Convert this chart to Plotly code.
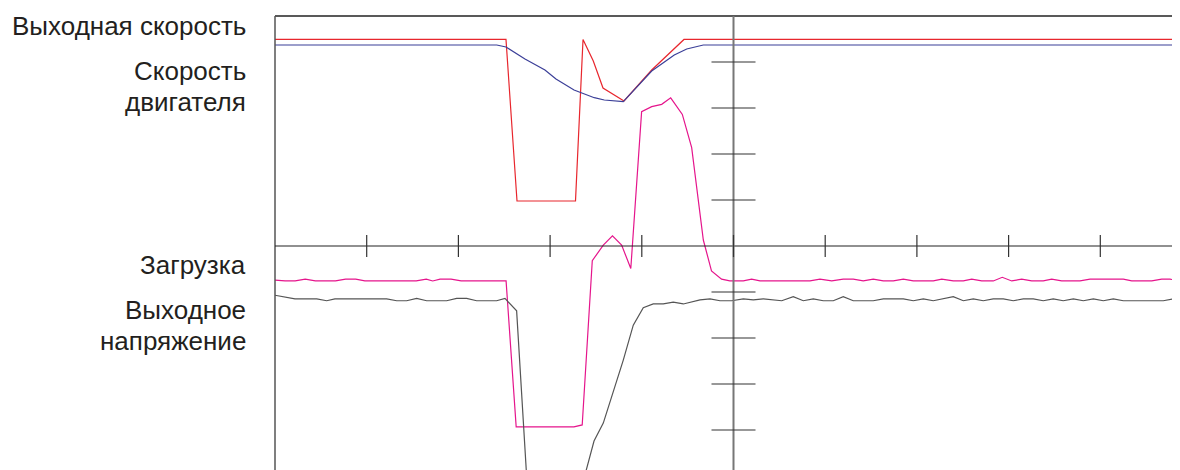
import plotly.graph_objects as go

# time axis in screen divisions (0..10), signal values in divisions (-5..5)
out_speed_t = [0.0, 2.519, 2.639, 3.277, 3.359, 3.471, 3.577, 3.806, 4.108, 4.460, 10.0]
out_speed_v = [4.49, 4.49, 0.978, 0.978, 4.49, 4.02, 3.435, 3.152, 3.826, 4.49, 4.49]

motor_speed_t = [0.0, 2.418, 2.519, 2.726, 2.944, 3.064, 3.261, 3.482, 3.591, 3.798,
                 4.108, 4.354, 4.490, 4.671, 10.0]
motor_speed_v = [4.37, 4.37, 4.326, 4.065, 3.826, 3.630, 3.391, 3.224, 3.174, 3.137,
                 3.804, 4.152, 4.283, 4.37, 4.37]

load_t = [0.00, 0.11, 0.22, 0.33, 0.44, 0.55, 0.66, 0.77, 0.88, 0.98, 1.10, 1.21, 1.32,
          1.43, 1.54, 1.65, 1.72, 1.80, 1.92, 2.03, 2.14, 2.30, 2.52,
          2.63, 3.26, 3.35, 3.46, 3.58, 3.68, 3.78, 3.88, 3.998, 4.108, 4.217, 4.315,
          4.442, 4.544, 4.671, 4.76, 4.87, 4.96,
          5.107, 5.198, 5.289, 5.834, 5.943, 6.071, 6.197, 6.306, 6.415, 6.524, 6.634,
          6.743, 6.852, 6.961, 7.179, 7.271, 7.397, 7.506, 7.598, 7.707, 7.833, 7.931,
          8.034, 8.143, 8.252, 8.378, 8.470, 8.579, 8.779, 8.888, 9.251, 9.343, 9.561,
          9.670, 9.760, 9.869]
load_v = [-0.74, -0.76, -0.76, -0.72, -0.76, -0.76, -0.76, -0.72, -0.72, -0.76, -0.76, -0.76, -0.76,
          -0.76, -0.76, -0.72, -0.76, -0.72, -0.72, -0.76, -0.76, -0.76, -0.76,
          -3.93, -3.93, -3.89, -0.32, 0.02, 0.22, 0.02, -0.49, 2.92, 3.03, 3.08, 3.22,
          2.86, 2.14, 0.13, -0.54, -0.72, -0.76,
          -0.76, -0.72, -0.76, -0.76, -0.72, -0.76, -0.72, -0.72, -0.76, -0.72, -0.76,
          -0.76, -0.72, -0.76, -0.76, -0.72, -0.76, -0.76, -0.72, -0.76, -0.76, -0.68,
          -0.76, -0.72, -0.76, -0.76, -0.72, -0.76, -0.76, -0.72, -0.72, -0.76, -0.76,
          -0.72, -0.72, -0.76]

volt_t = [0.000, 0.218, 0.455, 0.564, 0.654, 1.218, 1.327, 1.436, 1.545, 1.654, 1.872, 1.981,
          2.090, 2.199, 2.417, 2.508, 2.635, 2.750, 3.350, 3.479, 3.580, 3.798, 3.907,
          4.016, 4.125, 4.234, 4.343, 4.453,
          4.635, 4.744, 4.853, 4.980, 5.107, 5.216, 5.325, 5.526, 5.652, 5.761, 5.870,
          5.979, 6.088, 6.197, 6.306, 6.524, 6.634, 6.852, 6.961, 7.070, 7.179, 7.397,
          7.506, 7.615, 7.724, 7.833, 7.942, 8.051, 8.160, 8.269, 8.378, 8.487, 8.596,
          8.706, 8.815, 8.924, 9.033, 9.142, 9.251, 9.687, 9.796, 9.869]
volt_v = [-1.07, -1.15, -1.15, -1.19, -1.15, -1.15, -1.19, -1.19, -1.14, -1.19, -1.19, -1.14,
          -1.14, -1.19, -1.19, -1.14, -1.41, -5.20, -5.20, -4.24, -3.85, -2.48, -1.72,
          -1.34, -1.26, -1.26, -1.22, -1.26,
          -1.17, -1.15, -1.19, -1.19, -1.15, -1.17, -1.15, -1.19, -1.10, -1.19, -1.15,
          -1.19, -1.19, -1.10, -1.19, -1.19, -1.15, -1.15, -1.19, -1.15, -1.19, -1.10,
          -1.19, -1.15, -1.19, -1.15, -1.15, -1.19, -1.15, -1.15, -1.19, -1.15, -1.19,
          -1.15, -1.19, -1.15, -1.19, -1.15, -1.19, -1.19, -1.15, -1.17]

x_ticks = [1, 2, 3, 4, 5, 6, 7, 8, 9]
y_ticks = [-4, -3, -2, -1, 1, 2, 3, 4]

# (label, vertical centre on the page in px)
labels = [
    ("Выходная скорость", 26),
    ("Скорость", 71),
    ("двигателя", 102),
    ("Загрузка", 265),
    ("Выходное", 310),
    ("напряжение", 341),
]

PAGE_OFF = 8            # default body margin of the html page
W, H = 1180 - PAGE_OFF, 470 - PAGE_OFF
ML, MT = 275 - PAGE_OFF - 5, 16 - PAGE_OFF - 2

fig = go.Figure()
fig.add_trace(go.Scatter(x=out_speed_t, y=out_speed_v, mode="lines",
                         line=dict(color="#e8262d", width=1.2), name="Выходная скорость"))
fig.add_trace(go.Scatter(x=motor_speed_t, y=motor_speed_v, mode="lines",
                         line=dict(color="#3b3f98", width=1.2), name="Скорость двигателя"))
fig.add_trace(go.Scatter(x=load_t, y=load_v, mode="lines",
                         line=dict(color="#e5158c", width=1.2), name="Загрузка"))
fig.add_trace(go.Scatter(x=volt_t, y=volt_v, mode="lines",
                         line=dict(color="#555555", width=1.2), name="Выходное напряжение"))

shapes = []
# frame: top border and left border
shapes.append(dict(type="line", xref="x", yref="y", x0=0, x1=10, y0=5, y1=5,
                   line=dict(color="#222222", width=1.3)))
shapes.append(dict(type="line", xref="x", yref="y", x0=0, x1=0, y0=-6, y1=5,
                   line=dict(color="#555555", width=1.5)))
# centre axes
shapes.append(dict(type="line", xref="x", yref="y", x0=0, x1=10, y0=0, y1=0,
                   line=dict(color="#222222", width=1.2)))
shapes.append(dict(type="line", xref="x", yref="y", x0=5, x1=5, y0=-6, y1=5,
                   line=dict(color="#777777", width=2)))
for xt in x_ticks:
    shapes.append(dict(type="line", xref="x", yref="y", x0=xt, x1=xt, y0=-0.24, y1=0.24,
                       line=dict(color="#333333", width=1.2)))
for yt in y_ticks:
    shapes.append(dict(type="line", xref="x", yref="y", x0=4.76, x1=5.24, y0=yt, y1=yt,
                       line=dict(color="#333333", width=1.2)))

plot_w = W - ML
plot_h = H - MT
annotations = []
for text, py in labels:
    annotations.append(dict(text=text, xref="paper", yref="paper",
                            x=(248 - PAGE_OFF - ML) / plot_w,
                            y=(H - (py - PAGE_OFF)) / plot_h,
                            xanchor="right", yanchor="middle", showarrow=False,
                            font=dict(family="Liberation Sans, Arial, sans-serif",
                                      size=26, color="#231f20")))

fig.update_layout(
    width=W, height=H,
    margin=dict(l=ML, r=0, t=MT, b=0, autoexpand=False),
    paper_bgcolor="white", plot_bgcolor="white",
    showlegend=False,
    shapes=shapes, annotations=annotations,
    xaxis=dict(range=[-5 / 91.7, -5 / 91.7 + plot_w / 91.7], visible=False, fixedrange=True),
    yaxis=dict(range=[5 + 2 / 46 - plot_h / 46, 5 + 2 / 46], visible=False, fixedrange=True),
)

fig.write_html("out.html")
